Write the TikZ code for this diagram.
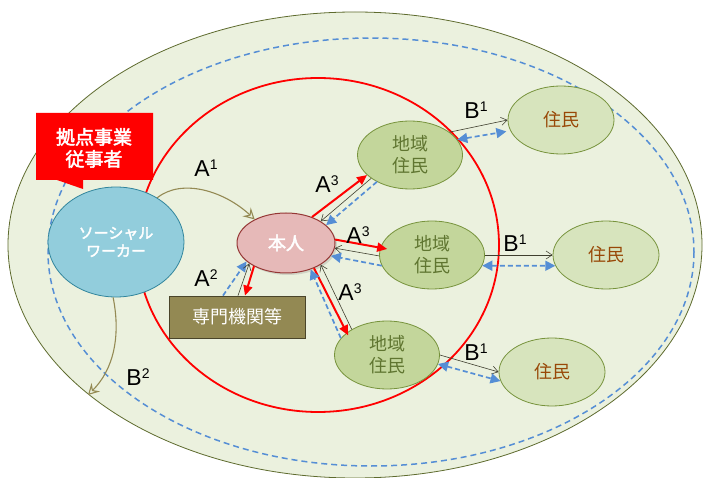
\documentclass[tikz,border=0pt]{standalone}
\usepackage{fontspec}
\setmainfont{Liberation Sans}
\newfontfamily\jp{Noto Sans CJK JP}
\newfontfamily\jpb{Noto Sans CJK JP}[FakeBold=2.5]
\usetikzlibrary{shapes.geometric,arrows.meta,shadows}
\definecolor{outerfill}{HTML}{EBF1DE}
\definecolor{outerline}{HTML}{5E6B2E}
\definecolor{bluedash}{HTML}{558ED5}
\definecolor{chifill}{HTML}{C3D69B}
\definecolor{chiline}{HTML}{77933C}
\definecolor{chitext}{HTML}{5F7530}
\definecolor{zufill}{HTML}{D7E4BD}
\definecolor{zutext}{HTML}{984807}
\definecolor{senfill}{HTML}{938953}
\definecolor{senline}{HTML}{4A452A}
\definecolor{swfill}{HTML}{92CDDC}
\definecolor{swline}{HTML}{31859C}
\definecolor{honfill}{HTML}{E6B9B8}
\definecolor{honline}{HTML}{953735}
\definecolor{olivearrow}{HTML}{948A54}
\definecolor{thinline}{HTML}{3F3F2F}
\newcommand\lblsup[2]{#1\raisebox{6.5pt}{\fontsize{14}{14}\selectfont #2}}
\tikzset{
  ell/.style={ellipse, inner sep=0pt, align=center},
  chinode/.style={ell, minimum width=105pt, minimum height=68pt, fill=chifill, draw=chiline, line width=0.8pt, text=chitext, font=\jp\fontsize{18}{22}\selectfont},
  zunode/.style={ell, minimum width=106pt, minimum height=68pt, fill=zufill, draw=chiline, line width=0.8pt, text=zutext, font=\jp\fontsize{18}{22}\selectfont},
  lbl/.style={font=\fontsize{23}{23}\selectfont, inner sep=0pt},
  redarr/.style={draw=red, line width=2pt, -{Triangle[length=10pt,width=9pt]}},
  bluearr/.style={draw=bluedash, line width=1.7pt, dash pattern=on 5pt off 3pt, -{Triangle[length=10pt,width=10pt]}},
  bluedbl/.style={draw=bluedash, line width=1.7pt, dash pattern=on 5pt off 3pt, {Triangle[length=10pt,width=10pt]}-{Triangle[length=10pt,width=10pt]}},
  thinarr/.style={draw=thinline, line width=0.6pt, -{Straight Barb[length=6pt,width=8pt]}},
  olivearr/.style={draw=olivearrow, line width=1.1pt, -{Stealth[length=11pt,width=12pt,inset=4pt,open]}},
}
\begin{document}
\begin{tikzpicture}[x=1pt,y=-1pt]
\useasboundingbox (0,0) rectangle (704,478);
\fill[white] (0,0) rectangle (704,478);
% background regions
\draw[fill=outerfill, draw=outerline, line width=0.8pt] (355,245) ellipse [x radius=347, y radius=233];
\draw[bluedash, line width=1.5pt, dash pattern=on 6pt off 4pt] (371,252) ellipse [x radius=323, y radius=214];
\draw[red, line width=1.8pt] (318,245) ellipse [x radius=181, y radius=167];

% callout
\fill[red] (36,113) -- (153,113) -- (153,180) -- (83,180) -- (83,189) -- (57,180) -- (36,180) -- cycle;
\node[text=white, font=\jpb\fontsize{19}{22}\selectfont, align=center] (kyoten) at (94,148) {拠点事業\\従事者};

% nodes
\node[ell, minimum width=136pt, minimum height=110pt, fill=swfill, draw=swline, line width=0.8pt, text=white, font=\jpb\fontsize{15}{18}\selectfont] (sw) at (116,242) {ソーシャル\\ワーカー};
\node[ell, minimum width=98pt, minimum height=60pt, fill=honfill, draw=honline, line width=1pt, text=white, font=\jpb\fontsize{18}{20}\selectfont, drop shadow={opacity=0.25, shadow xshift=2pt, shadow yshift=-2pt}] (hon) at (286,243) {本人};
\node[rectangle, minimum width=136pt, minimum height=42pt, inner sep=0pt, fill=senfill, draw=senline, line width=0.8pt, text=white, font=\jp\fontsize{18}{20}\selectfont] (sen) at (237,317) {専門機関等};

\node[chinode] (chi1) at (410,155) {地域\\住民};
\node[chinode] (chi2) at (432,255) {地域\\住民};
\node[chinode] (chi3) at (387,355) {地域\\住民};
\node[zunode] (zu1) at (561,120) {住民};
\node[zunode] (zu2) at (606,255) {住民};
\node[zunode] (zu3) at (552,372) {住民};

% A1 and B2
\draw[olivearr] (sw.47) .. controls +(25,-20) and +(-30,-28) .. (hon.143);
\coordinate (b2end) at (88,395);
\draw[olivearr] (sw.-93) .. controls +(8,40) and +(25,-25) .. (b2end);

% A2
\draw[bluearr] ([xshift=-14pt]sen.north) -- (hon.205);
\draw[thinarr] ([xshift=1pt]sen.north) -- (hon.209);
\draw[redarr] (hon.216) -- ([xshift=8pt]sen.north);

% A3 to chi1
\draw[redarr] (hon.45) -- (chi1.205);
\draw[thinarr] (chi1.211) -- (hon.32);
\draw[bluearr] (chi1.219) -- (hon.24);
% A3 to chi2
\draw[redarr, shorten >=-7pt] (hon.4) -- (chi2.172);
\draw[thinarr] (chi2.181) -- (hon.-6);
\draw[bluearr] (chi2.192) -- (hon.-16);
% A3 to chi3
\draw[redarr, shorten >=-3pt] (hon.-42) -- (chi3.151);
\draw[thinarr] (chi3.144) -- (hon.-32);
\draw[bluearr] (chi3.160) -- (hon.-47);

% B1
\draw[thinarr] (chi1.30) -- (zu1.180);
\draw[bluedbl, shorten >=4pt] (chi1.18) -- (zu1.192);
\draw[thinarr] (chi2.0) -- (zu2.180);
\draw[bluedbl] (chi2.-12) -- (zu2.192);
\draw[thinarr] (chi3.0) -- (zu3.180);
\draw[bluedbl] (chi3.-10) -- (zu3.190);

% labels
\node[lbl] (la1) at (206,168) {\lblsup{A}{1}};
\node[lbl] (la2) at (206,278) {\lblsup{A}{2}};
\node[lbl] (lb2) at (138,377) {\lblsup{B}{2}};
\node[lbl] (la31) at (327,184) {\lblsup{A}{3}};
\node[lbl] (la32) at (358,235) {\lblsup{A}{3}};
\node[lbl] (la33) at (350,292) {\lblsup{A}{3}};
\node[lbl] (lb11) at (476,110) {\lblsup{B}{1}};
\node[lbl] (lb12) at (515,243) {\lblsup{B}{1}};
\node[lbl] (lb13) at (476,352) {\lblsup{B}{1}};
\end{tikzpicture}
\end{document}
